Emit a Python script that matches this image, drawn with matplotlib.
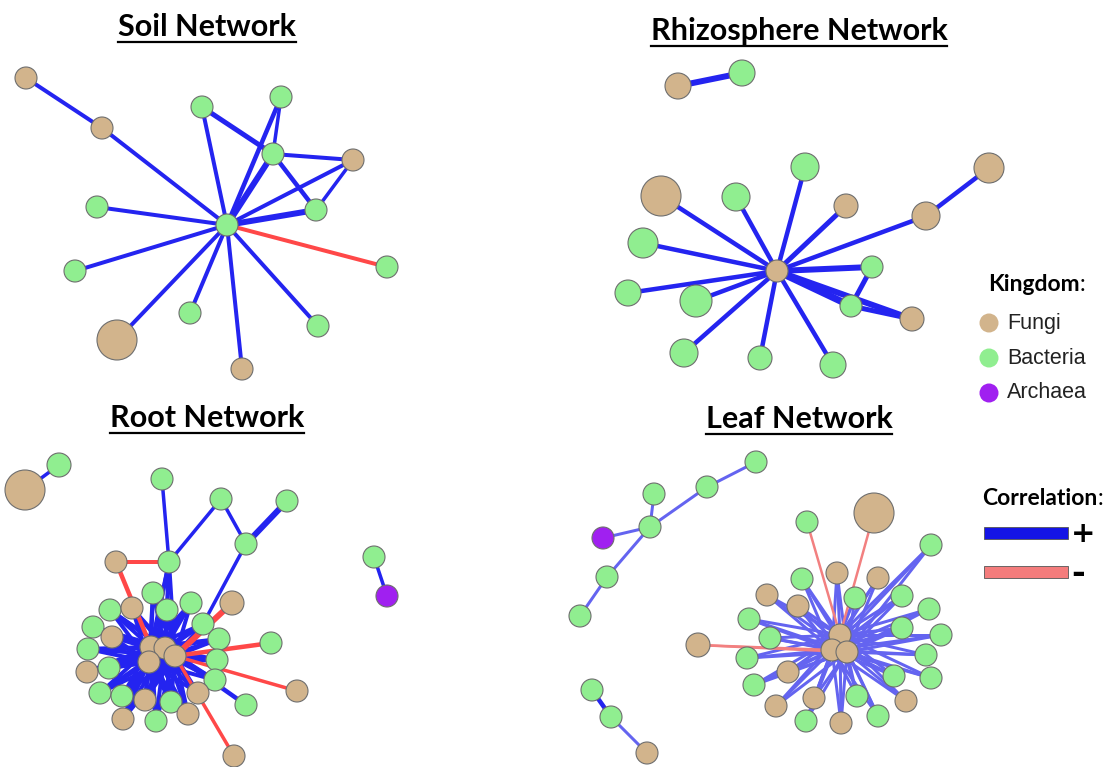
import matplotlib
matplotlib.use('Agg')
import matplotlib.pyplot as plt
from matplotlib.patches import Circle, Rectangle
from matplotlib.collections import LineCollection
from matplotlib.lines import Line2D

W, H = 1111, 767
PX = 72 / 100            # edge widths below are in pixels

KIND_COLOR = {'F': '#d2b48c', 'B': '#90ee90', 'A': '#a020f0'}
EDGE_COLOR = {'+': '#2424f0', '-': '#ff4848',      # strong correlations
              'p': '#6464f0', 'n': '#f28080'}      # faint ones (leaf)
NODE_LINE = '#6e6e6e'

# ---- Soil network (layout in pixels) ----
soil_x = [26, 102, 202, 281, 273, 353, 316, 227, 97, 75, 387, 190, 318, 117, 242]
soil_y = [78, 128, 107, 97, 154, 160, 210, 225, 207, 271, 267, 313, 326, 340, 369]
soil_r = [11, 11, 11, 11, 11, 11, 11, 11, 11, 11, 11, 11, 11, 20, 11]
soil_kind = "FFBBBFBBBBBBBFF"
soil_edges = [(0, 1, 4, '+'), (1, 7, 4, '+'), (2, 7, 4, '+'), (2, 4, 5, '+'),
              (3, 7, 4.5, '+'), (3, 4, 3.5, '+'), (4, 7, 6, '+'), (4, 5, 4, '+'),
              (4, 6, 4.5, '+'), (5, 7, 4, '+'), (5, 6, 3.5, '+'), (6, 7, 6, '+'),
              (7, 8, 4, '+'), (7, 9, 4, '+'), (7, 10, 4, '-'), (7, 11, 4, '+'),
              (7, 12, 4, '+'), (7, 13, 4, '+'), (7, 14, 4, '+')]

# ---- Rhizosphere network ----
rhizo_x = [678, 742, 777, 805, 661, 736, 846, 989, 926, 643, 872, 628, 696, 851, 912, 684, 760, 833]
rhizo_y = [86, 73, 271, 167, 196, 197, 206, 168, 216, 243, 267, 293, 301, 306, 319, 353, 358, 365]
rhizo_r = [13, 13, 11, 14, 20, 14, 12, 15, 14, 15, 11, 13, 16, 11, 12, 14, 12, 13]
rhizo_kind = "FBFBFBFFFBBBBBFBBB"
rhizo_edges = [(0, 1, 6, '+'), (2, 3, 4.5, '+'), (2, 4, 4.5, '+'), (2, 5, 4.5, '+'),
               (2, 6, 5, '+'), (2, 8, 4.5, '+'), (7, 8, 4.5, '+'), (2, 9, 4.5, '+'),
               (2, 10, 6, '+'), (2, 11, 4.5, '+'), (2, 12, 4.5, '+'), (2, 13, 7, '+'),
               (2, 14, 6, '+'), (13, 14, 5, '+'), (10, 13, 5, '+'), (2, 15, 4.5, '+'),
               (2, 16, 4.5, '+'), (2, 17, 4.5, '+')]

# ---- Root network ----
root_x = [25, 59, 162, 221, 287, 246, 116, 169, 374, 387,
          153, 110, 132, 167, 191, 232, 203, 93, 112, 219,
          271, 88, 151, 165, 175, 149, 217, 87, 109, 215,
          297, 100, 122, 145, 171, 198, 246, 123, 156, 188, 234]
root_y = [490, 465, 479, 499, 501, 544, 562, 562, 557, 596,
          593, 610, 608, 610, 603, 603, 624, 627, 637, 639,
          643, 649, 647, 648, 656, 662, 660, 672, 668, 680,
          691, 693, 696, 700, 702, 693, 705, 719, 721, 714, 756]
root_r = [20, 12, 11, 11, 11, 11, 11, 11, 11, 11,
          11, 11, 11, 11, 11, 12, 11, 11, 11, 11,
          11, 11, 11, 11, 11, 11, 11, 11, 11, 11,
          11, 11, 11, 11, 11, 11, 11, 11, 11, 11, 11]
root_kind = ("FBBBBBFBBA"
             "BBFBBFBBFB"
             "BBFFFFBFBB"
             "FBBFBFBFBF"
             "F")
root_edges = [(0, 1, 3.5, '+'), (2, 7, 3.5, '+'), (3, 7, 3.5, '+'), (3, 5, 3.5, '+'),
              (4, 5, 6, '+'), (5, 16, 3.5, '+'), (6, 7, 4, '-'), (6, 22, 4.5, '-'),
              (8, 9, 3.5, '+'), (23, 36, 4.5, '+'),
              (24, 15, 6, '-'), (24, 20, 4.5, '-'), (24, 30, 3.5, '-'), (24, 40, 3.5, '-')]
root_hubs = [22, 23, 24, 25]
root_spokes = [7, 10, 11, 12, 13, 14, 16, 17, 18, 19, 21, 26, 27, 28, 29,
               31, 32, 33, 34, 35, 37, 38, 39]

# ---- Leaf network ----
leaf_x = [756, 707, 654, 650, 603, 607, 580, 592, 611, 647,
          874, 807, 931, 837, 878, 802, 767, 855, 902, 798,
          929, 749, 902, 941, 770, 698, 840, 832, 847, 747,
          926, 788, 894, 931, 754, 814, 857, 906, 776, 878, 806, 841]
leaf_y = [462, 487, 494, 527, 538, 577, 616, 690, 717, 753,
          513, 522, 545, 573, 578, 579, 595, 598, 596, 606,
          609, 619, 628, 635, 638, 645, 635, 650, 652, 658,
          655, 672, 676, 678, 685, 698, 696, 701, 706, 716, 721, 723]
leaf_r = [11, 11, 11, 11, 11, 11, 11, 11, 11, 11,
          20, 11, 11, 11, 11, 11, 11, 11, 11, 11,
          11, 11, 11, 11, 11, 12, 11, 11, 11, 11,
          11, 11, 11, 11, 11, 11, 11, 11, 11, 11, 11, 11]
leaf_kind = ("BBBBABBBBF"
             "FBBFFBFBBF"
             "BBBBBFFFFB"
             "BFBBBFBFFBBF")
leaf_edges = [(0, 1, 3, 'p'), (1, 3, 3, 'p'), (2, 3, 3, 'p'), (3, 4, 3, 'p'),
              (3, 5, 3, 'p'), (5, 6, 3, 'p'), (7, 8, 4.5, '+'), (8, 9, 3, 'p'),
              (10, 26, 2.5, 'n'), (11, 26, 2.5, 'n'), (25, 27, 2.5, 'n'), (25, 28, 2.5, 'n')]
leaf_hubs = [26, 27, 28]
leaf_spokes = [12, 13, 14, 15, 16, 17, 18, 19, 20, 21, 22, 23, 24,
               29, 30, 31, 32, 33, 34, 35, 36, 37, 38, 39, 40, 41]

TITLES = [("Soil Network", 207, 36), ("Rhizosphere Network", 799, 40),
          ("Root Network", 207, 427), ("Leaf Network", 799, 428)]

KINGDOMS = [("Fungi", 'F'), ("Bacteria", 'B'), ("Archaea", 'A')]
CORRELATIONS = [("+", '+'), ("-", '-')]


def hub_edges(hubs, spokes, width, sign):
    return [(h, s, width, sign) for h in hubs for s in spokes]


def draw_net(ax, x, y, r, kind, edges):
    # edges first, negative ones on top of the positive bundle
    for keys in (('p', '+'), ('n', '-')):
        segs, lws, cols = [], [], []
        for i, j, w, sign in edges:
            if sign not in keys:
                continue
            segs.append([(x[i], y[i]), (x[j], y[j])])
            lws.append(w * PX)
            cols.append(EDGE_COLOR[sign])
        if segs:
            ax.add_collection(LineCollection(segs, linewidths=lws, colors=cols,
                                             capstyle='butt', zorder=2))
    for xi, yi, ri, k in zip(x, y, r, kind):
        ax.add_patch(Circle((xi, yi), ri, facecolor=KIND_COLOR[k],
                            edgecolor=NODE_LINE, linewidth=0.8, zorder=3))


fig = plt.figure(figsize=(W / 100, H / 100), dpi=100)
ax = fig.add_axes([0, 0, 1, 1])
ax.set_xlim(0, W)
ax.set_ylim(H, 0)
ax.axis('off')

draw_net(ax, soil_x, soil_y, soil_r, soil_kind, soil_edges)
draw_net(ax, rhizo_x, rhizo_y, rhizo_r, rhizo_kind, rhizo_edges)
draw_net(ax, root_x, root_y, root_r, root_kind,
         hub_edges(root_hubs, root_spokes, 4, '+') + root_edges)
draw_net(ax, leaf_x, leaf_y, leaf_r, leaf_kind,
         hub_edges(leaf_hubs, leaf_spokes, 3, 'p') + leaf_edges)

# titles, underlined
title_objs = []
for label, tx, ty in TITLES:
    title_objs.append(ax.text(tx, ty, label, ha='center', va='baseline',
                              fontsize=22, fontweight='bold', family='Lato'))

# legend: kingdom
heads = [ax.text(988, 291, "Kingdom", fontsize=16.5, fontweight='bold', family='Lato',
                 va='baseline')]
for n, (label, k) in enumerate(KINGDOMS):
    ly = 323 + n * 35
    ax.add_patch(Circle((989, ly), 9.5, facecolor=KIND_COLOR[k], edgecolor='none', zorder=3))
    ax.text(1007, ly, label, fontsize=15.5, family='Liberation Sans', va='center',
            color='#222222')

# legend: correlation
heads.append(ax.text(982, 505, "Correlation", fontsize=16.5, fontweight='bold',
                     family='Lato', va='baseline'))
for n, (label, sign) in enumerate(CORRELATIONS):
    ly = 533 + n * 39
    face = '#1414e6' if sign == '+' else '#f47c7c'
    ax.add_patch(Rectangle((984, ly - 6), 84, 12, facecolor=face,
                           edgecolor='#555555', linewidth=0.6, zorder=3))
    ax.text(1071, ly + 1, label, fontsize=21 if sign == '+' else 24, fontweight='bold',
            family='DejaVu Sans', va='center', ha='left')

fig.canvas.draw()
renderer = fig.canvas.get_renderer()
inv = ax.transData.inverted()

# colons after the bold legend headings are set in regular weight
for head in heads:
    bb = head.get_window_extent(renderer)
    x1, _ = inv.transform((bb.x1, bb.y0))
    ax.text(x1, head.get_position()[1], ":", fontsize=16.5, family='Lato',
            va='baseline')

for t in title_objs:
    bb = t.get_window_extent(renderer)
    (x0, _), (x1, _) = inv.transform((bb.x0, bb.y0)), inv.transform((bb.x1, bb.y0))
    uy = t.get_position()[1] + 6
    ax.add_line(Line2D([x0, x1], [uy, uy], color='black', linewidth=1.6))

fig.savefig('out.png', dpi=100, facecolor='white')
